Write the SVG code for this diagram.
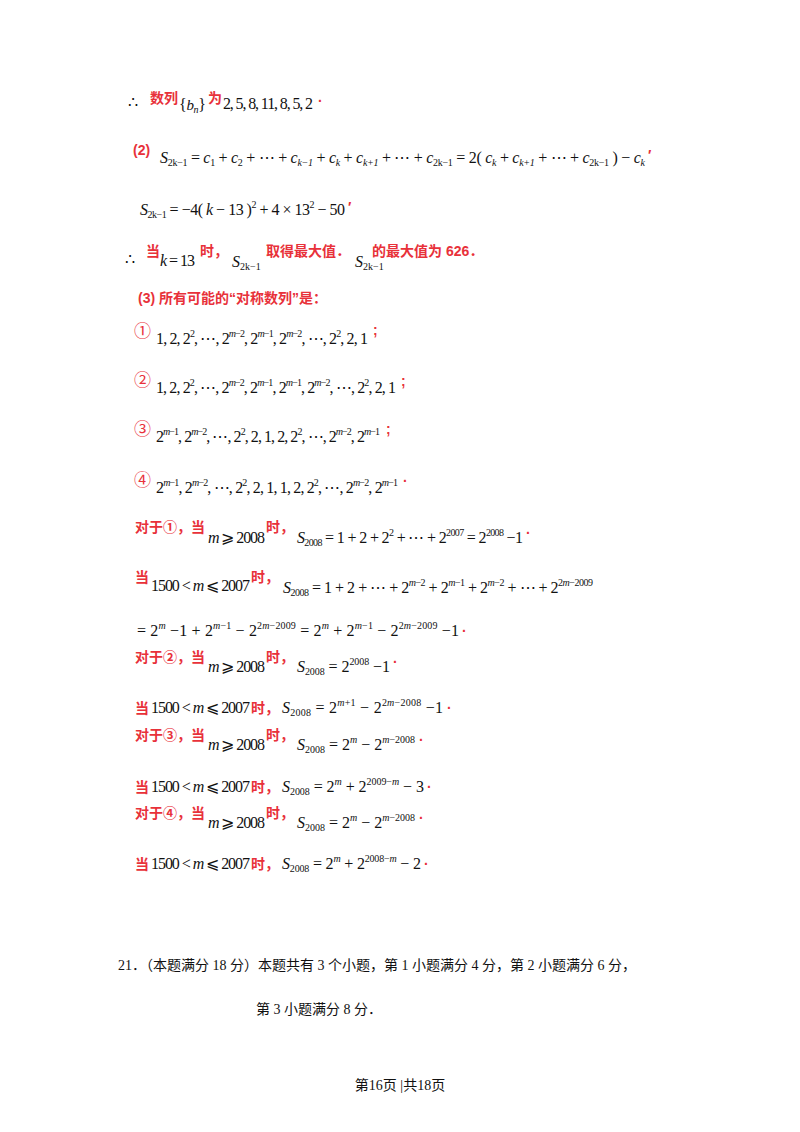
<svg xmlns="http://www.w3.org/2000/svg" width="800" height="1132" viewBox="0 0 800 1132">
<style>
.m{font-family:"Liberation Serif",serif;font-size:16px;fill:#111}
.i{font-style:italic}
.r{font-family:"Liberation Sans","Noto Sans CJK SC",sans-serif;font-size:14px;fill:#e8313a;font-weight:600}
.o{font-family:"Noto Sans CJK SC",sans-serif;font-size:17px;fill:#e8313a}
.c{font-family:"Liberation Serif","Noto Sans CJK SC",serif;font-size:14px;fill:#111}
.s{font-size:10px}
</style>
<rect width="800" height="1132" fill="#fff"/>
<g id="row1">
<text class="m" x="128" y="108">∴</text>
<text class="r" x="150" y="103">数列</text>
<text class="m" x="179" y="110" textLength="27" lengthAdjust="spacing">{<tspan class="i" font-size="15">b</tspan><tspan class="s i" dy="3">n</tspan><tspan dy="-3">}</tspan></text>
<text class="r" x="208" y="103">为</text>
<text class="m" x="223" y="109" font-size="15" textLength="90" lengthAdjust="spacing">2, 5, 8, 11, 8, 5, 2</text>
<text class="r" x="318" y="106">·</text>
</g>
<g id="row2">
<text class="r" x="133" y="155">(2)</text>
<text class="m" x="160" y="163" textLength="485" lengthAdjust="spacing"><tspan class="i">S</tspan><tspan class="s" dy="3">2k−1</tspan><tspan dy="-3"> = </tspan><tspan class="i">c</tspan><tspan class="s" dy="3">1</tspan><tspan dy="-3"> + </tspan><tspan class="i">c</tspan><tspan class="s" dy="3">2</tspan><tspan dy="-3"> + ⋯ + </tspan><tspan class="i">c</tspan><tspan class="s i" dy="3">k−1</tspan><tspan dy="-3"> + </tspan><tspan class="i">c</tspan><tspan class="s i" dy="3">k</tspan><tspan dy="-3"> + </tspan><tspan class="i">c</tspan><tspan class="s i" dy="3">k+1</tspan><tspan dy="-3"> + ⋯ + </tspan><tspan class="i">c</tspan><tspan class="s" dy="3">2k−1</tspan><tspan dy="-3"> = 2( </tspan><tspan class="i">c</tspan><tspan class="s i" dy="3">k</tspan><tspan dy="-3"> + </tspan><tspan class="i">c</tspan><tspan class="s i" dy="3">k+1</tspan><tspan dy="-3"> + ⋯ + </tspan><tspan class="i">c</tspan><tspan class="s" dy="3">2k−1</tspan><tspan dy="-3"> ) − </tspan><tspan class="i">c</tspan><tspan class="s i" dy="3">k</tspan></text>
<text class="r" x="648" y="160">′</text>
</g>
<g id="row3">
<text class="m" x="140" y="215" textLength="205" lengthAdjust="spacing"><tspan class="i">S</tspan><tspan class="s" dy="3">2k−1</tspan><tspan dy="-3"> = −4( </tspan><tspan class="i">k</tspan> − 13 )<tspan class="s" dy="-7">2</tspan><tspan dy="7"> + 4 × 13</tspan><tspan class="s" dy="-7">2</tspan><tspan dy="7"> − 50</tspan></text>
<text class="r" x="348" y="212">′</text>
</g>
<g id="row4">
<text class="m" x="125" y="265">∴</text>
<text class="r" x="146" y="256">当</text>
<text class="m" x="160" y="266" textLength="35" lengthAdjust="spacing"><tspan class="i">k</tspan> = 13</text>
<text class="r" x="200" y="256">时，</text>
<text class="m" x="232" y="267"><tspan class="i">S</tspan><tspan class="s" dy="3">2k−1</tspan></text>
<text class="r" x="266" y="256">取得最大值．</text>
<text class="m" x="355" y="267"><tspan class="i">S</tspan><tspan class="s" dy="3">2k−1</tspan></text>
<text class="r" x="372" y="256">的最大值为 626．</text>
</g>
<g id="row5"><text class="r" x="138" y="303" font-size="13">(3) 所有可能的“对称数列”是：</text></g>
<g id="seq1">
<text class="o" x="134" y="337">①</text>
<text class="m" x="156" y="344" font-size="15" textLength="212" lengthAdjust="spacing">1, 2, 2<tspan class="s" dy="-7">2</tspan><tspan dy="7">, ⋯, 2</tspan><tspan class="s" dy="-7"><tspan class="i">m</tspan>−2</tspan><tspan dy="7">, 2</tspan><tspan class="s" dy="-7"><tspan class="i">m</tspan>−1</tspan><tspan dy="7">, 2</tspan><tspan class="s" dy="-7"><tspan class="i">m</tspan>−2</tspan><tspan dy="7">, ⋯, 2</tspan><tspan class="s" dy="-7">2</tspan><tspan dy="7">, 2, 1</tspan></text>
<text class="r" x="373" y="335">;</text>
</g>
<g id="seq2">
<text class="o" x="134" y="386">②</text>
<text class="m" x="156" y="393" font-size="15" textLength="240" lengthAdjust="spacing">1, 2, 2<tspan class="s" dy="-7">2</tspan><tspan dy="7">, ⋯, 2</tspan><tspan class="s" dy="-7"><tspan class="i">m</tspan>−2</tspan><tspan dy="7">, 2</tspan><tspan class="s" dy="-7"><tspan class="i">m</tspan>−1</tspan><tspan dy="7">, 2</tspan><tspan class="s" dy="-7"><tspan class="i">m</tspan>−1</tspan><tspan dy="7">, 2</tspan><tspan class="s" dy="-7"><tspan class="i">m</tspan>−2</tspan><tspan dy="7">, ⋯, 2</tspan><tspan class="s" dy="-7">2</tspan><tspan dy="7">, 2, 1</tspan></text>
<text class="r" x="401" y="386">;</text>
</g>
<g id="seq3">
<text class="o" x="134" y="435">③</text>
<text class="m" x="156" y="442" font-size="15" textLength="224" lengthAdjust="spacing">2<tspan class="s" dy="-7"><tspan class="i">m</tspan>−1</tspan><tspan dy="7">, 2</tspan><tspan class="s" dy="-7"><tspan class="i">m</tspan>−2</tspan><tspan dy="7">, ⋯, 2</tspan><tspan class="s" dy="-7">2</tspan><tspan dy="7">, 2, 1, 2, 2</tspan><tspan class="s" dy="-7">2</tspan><tspan dy="7">, ⋯, 2</tspan><tspan class="s" dy="-7"><tspan class="i">m</tspan>−2</tspan><tspan dy="7">, 2</tspan><tspan class="s" dy="-7"><tspan class="i">m</tspan>−1</tspan></text>
<text class="r" x="386" y="434">;</text>
</g>
<g id="seq4">
<text class="o" x="134" y="486">④</text>
<text class="m" x="156" y="493" font-size="15" textLength="242" lengthAdjust="spacing">2<tspan class="s" dy="-7"><tspan class="i">m</tspan>−1</tspan><tspan dy="7">, 2</tspan><tspan class="s" dy="-7"><tspan class="i">m</tspan>−2</tspan><tspan dy="7">, ⋯, 2</tspan><tspan class="s" dy="-7">2</tspan><tspan dy="7">, 2, 1, 1, 2, 2</tspan><tspan class="s" dy="-7">2</tspan><tspan dy="7">, ⋯, 2</tspan><tspan class="s" dy="-7"><tspan class="i">m</tspan>−2</tspan><tspan dy="7">, 2</tspan><tspan class="s" dy="-7"><tspan class="i">m</tspan>−1</tspan></text>
<text class="r" x="403" y="486">·</text>
</g>
<g id="case1a">
<text class="r" x="135" y="532">对于①，当</text>
<text class="m" x="208" y="543" textLength="57" lengthAdjust="spacing"><tspan class="i">m</tspan> ⩾ 2008</text>
<text class="r" x="266" y="532">时，</text>
<text class="m" x="297" y="543" textLength="226" lengthAdjust="spacing"><tspan class="i">S</tspan><tspan class="s" dy="3">2008</tspan><tspan dy="-3"> = 1 + 2 + 2</tspan><tspan class="s" dy="-7">2</tspan><tspan dy="7"> + ⋯ + 2</tspan><tspan class="s" dy="-7">2007</tspan><tspan dy="7"> = 2</tspan><tspan class="s" dy="-7">2008</tspan><tspan dy="7"> −1</tspan></text>
<text class="r" x="526" y="538">·</text>
</g>
<g id="case1b">
<text class="r" x="135" y="582">当</text>
<text class="m" x="151" y="591" textLength="99" lengthAdjust="spacing">1500 &lt; <tspan class="i">m</tspan> ⩽ 2007</text>
<text class="r" x="251" y="582">时，</text>
<text class="m" x="283" y="593" textLength="310" lengthAdjust="spacing"><tspan class="i">S</tspan><tspan class="s" dy="3">2008</tspan><tspan dy="-3"> = 1 + 2 + ⋯ + 2</tspan><tspan class="s" dy="-7"><tspan class="i">m</tspan>−2</tspan><tspan dy="7"> + 2</tspan><tspan class="s" dy="-7"><tspan class="i">m</tspan>−1</tspan><tspan dy="7"> + 2</tspan><tspan class="s" dy="-7"><tspan class="i">m</tspan>−2</tspan><tspan dy="7"> + ⋯ + 2</tspan><tspan class="s" dy="-7">2<tspan class="i">m</tspan>−2009</tspan></text>
<text class="m" x="137" y="636" textLength="322" lengthAdjust="spacing">= 2<tspan class="s i" dy="-7">m</tspan><tspan dy="7"> −1 + 2</tspan><tspan class="s" dy="-7"><tspan class="i">m</tspan>−1</tspan><tspan dy="7"> − 2</tspan><tspan class="s" dy="-7">2<tspan class="i">m</tspan>−2009</tspan><tspan dy="7"> = 2</tspan><tspan class="s i" dy="-7">m</tspan><tspan dy="7"> + 2</tspan><tspan class="s" dy="-7"><tspan class="i">m</tspan>−1</tspan><tspan dy="7"> − 2</tspan><tspan class="s" dy="-7">2<tspan class="i">m</tspan>−2009</tspan><tspan dy="7"> −1</tspan></text>
<text class="r" x="462" y="636">·</text>
</g>
<g id="case2a">
<text class="r" x="135" y="662">对于②，当</text>
<text class="m" x="208" y="672" textLength="57" lengthAdjust="spacing"><tspan class="i">m</tspan> ⩾ 2008</text>
<text class="r" x="266" y="662">时，</text>
<text class="m" x="297" y="672" textLength="93" lengthAdjust="spacing"><tspan class="i">S</tspan><tspan class="s" dy="3">2008</tspan><tspan dy="-3"> = 2</tspan><tspan class="s" dy="-7">2008</tspan><tspan dy="7"> −1</tspan></text>
<text class="r" x="393" y="667">·</text>
</g>
<g id="case2b">
<text class="r" x="135" y="713">当</text>
<text class="m" x="151" y="713" textLength="99" lengthAdjust="spacing">1500 &lt; <tspan class="i">m</tspan> ⩽ 2007</text>
<text class="r" x="251" y="713">时，</text>
<text class="m" x="282" y="713" textLength="161" lengthAdjust="spacing"><tspan class="i">S</tspan><tspan class="s" dy="3">2008</tspan><tspan dy="-3"> = 2</tspan><tspan class="s" dy="-7"><tspan class="i">m</tspan>+1</tspan><tspan dy="7"> − 2</tspan><tspan class="s" dy="-7">2<tspan class="i">m</tspan>−2008</tspan><tspan dy="7"> −1</tspan></text>
<text class="r" x="447" y="713">·</text>
</g>
<g id="case3a">
<text class="r" x="135" y="740">对于③，当</text>
<text class="m" x="208" y="750" textLength="57" lengthAdjust="spacing"><tspan class="i">m</tspan> ⩾ 2008</text>
<text class="r" x="266" y="740">时，</text>
<text class="m" x="297" y="750" textLength="118" lengthAdjust="spacing"><tspan class="i">S</tspan><tspan class="s" dy="3">2008</tspan><tspan dy="-3"> = 2</tspan><tspan class="s i" dy="-7">m</tspan><tspan dy="7"> − 2</tspan><tspan class="s" dy="-7"><tspan class="i">m</tspan>−2008</tspan></text>
<text class="r" x="419" y="745">·</text>
</g>
<g id="case3b">
<text class="r" x="135" y="792">当</text>
<text class="m" x="151" y="792" textLength="99" lengthAdjust="spacing">1500 &lt; <tspan class="i">m</tspan> ⩽ 2007</text>
<text class="r" x="251" y="792">时，</text>
<text class="m" x="282" y="792" textLength="142" lengthAdjust="spacing"><tspan class="i">S</tspan><tspan class="s" dy="3">2008</tspan><tspan dy="-3"> = 2</tspan><tspan class="s i" dy="-7">m</tspan><tspan dy="7"> + 2</tspan><tspan class="s" dy="-7">2009−<tspan class="i">m</tspan></tspan><tspan dy="7"> − 3</tspan></text>
<text class="r" x="427" y="792">·</text>
</g>
<g id="case4a">
<text class="r" x="135" y="818">对于④，当</text>
<text class="m" x="208" y="828" textLength="57" lengthAdjust="spacing"><tspan class="i">m</tspan> ⩾ 2008</text>
<text class="r" x="266" y="818">时，</text>
<text class="m" x="297" y="828" textLength="118" lengthAdjust="spacing"><tspan class="i">S</tspan><tspan class="s" dy="3">2008</tspan><tspan dy="-3"> = 2</tspan><tspan class="s i" dy="-7">m</tspan><tspan dy="7"> − 2</tspan><tspan class="s" dy="-7"><tspan class="i">m</tspan>−2008</tspan></text>
<text class="r" x="419" y="823">·</text>
</g>
<g id="case4b">
<text class="r" x="135" y="869">当</text>
<text class="m" x="151" y="869" textLength="99" lengthAdjust="spacing">1500 &lt; <tspan class="i">m</tspan> ⩽ 2007</text>
<text class="r" x="251" y="869">时，</text>
<text class="m" x="282" y="869" textLength="139" lengthAdjust="spacing"><tspan class="i">S</tspan><tspan class="s" dy="3">2008</tspan><tspan dy="-3"> = 2</tspan><tspan class="s i" dy="-7">m</tspan><tspan dy="7"> + 2</tspan><tspan class="s" dy="-7">2008−<tspan class="i">m</tspan></tspan><tspan dy="7"> − 2</tspan></text>
<text class="r" x="424" y="869">·</text>
</g>
<g id="q21">
<text class="c" x="118" y="970">21．（本题满分 18 分）本题共有 3 个小题，第 1 小题满分 4 分，第 2 小题满分 6 分，</text>
<text class="c" x="256" y="1014">第 3 小题满分 8 分．</text>
</g>
<g id="footer"><text class="c" x="400" y="1090" font-size="13" text-anchor="middle">第16页 |共18页</text></g>
</svg>
